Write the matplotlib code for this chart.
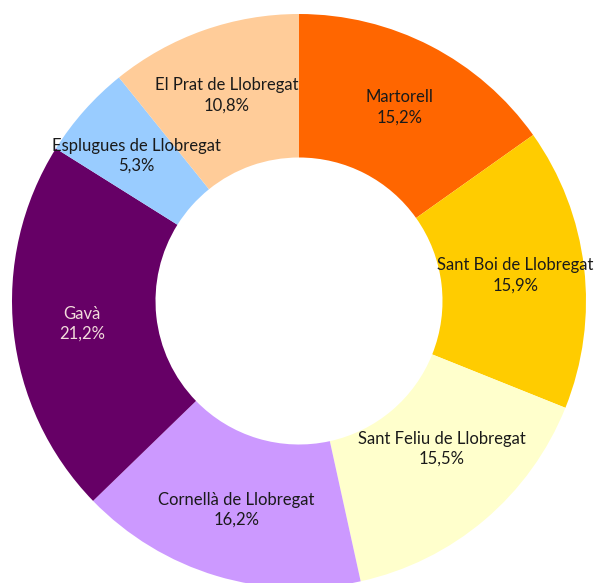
import matplotlib
matplotlib.use("Agg")

import numpy as np
import matplotlib.pyplot as plt

# Share by municipality (%), clockwise from 12 o'clock
labels = ["Martorell", "Sant Boi de Llobregat", "Sant Feliu de Llobregat",
          "Cornellà de Llobregat", "Gavà", "Esplugues de Llobregat",
          "El Prat de Llobregat"]
values = [15.2, 15.9, 15.5, 16.2, 21.2, 5.3, 10.8]
colors = ["#FF6600", "#FFCC00", "#FFFFCC", "#CC99FF", "#660066", "#99CCFF", "#FFCC99"]
text_colors = ["#1a1a1a"] * 4 + ["#F2DCDB"] + ["#1a1a1a"] * 2

W, H = 598, 583
fig = plt.figure(figsize=(W / 100, H / 100), dpi=100)

# donut centre and radius in pixels (bottom edge runs off the canvas)
cx, cy, R = 299, 301, 287
ax = fig.add_axes([(cx - R) / W, (H - cy - R) / H, 2 * R / W, 2 * R / H])

ax.pie(values, colors=colors, startangle=90, counterclock=False,
       radius=1.0, wedgeprops=dict(width=0.5, linewidth=0))
ax.set_xlim(-1, 1)
ax.set_ylim(-1, 1)
ax.set_aspect("equal")
ax.axis("off")

# labels at mid-angle of each wedge; Excel shifted one of them
nudge = {"Sant Feliu de Llobregat": (0.005, 0.066)}
total = sum(values)
cum = np.cumsum([0] + values[:-1])
r_lab = 0.76
for lab, v, c0, tc in zip(labels, values, cum, text_colors):
    ang = np.deg2rad(90 - 360 * (c0 + v / 2) / total)
    x, y = r_lab * np.cos(ang), r_lab * np.sin(ang)
    dx, dy = nudge.get(lab, (0, 0))
    ax.text(x + dx, y + dy, f"{lab}\n{v:.1f}%".replace(".", ","),
            ha="center", va="center", fontsize=12, color=tc,
            family="Lato", linespacing=1.3)

fig.savefig("out.png", dpi=100)
